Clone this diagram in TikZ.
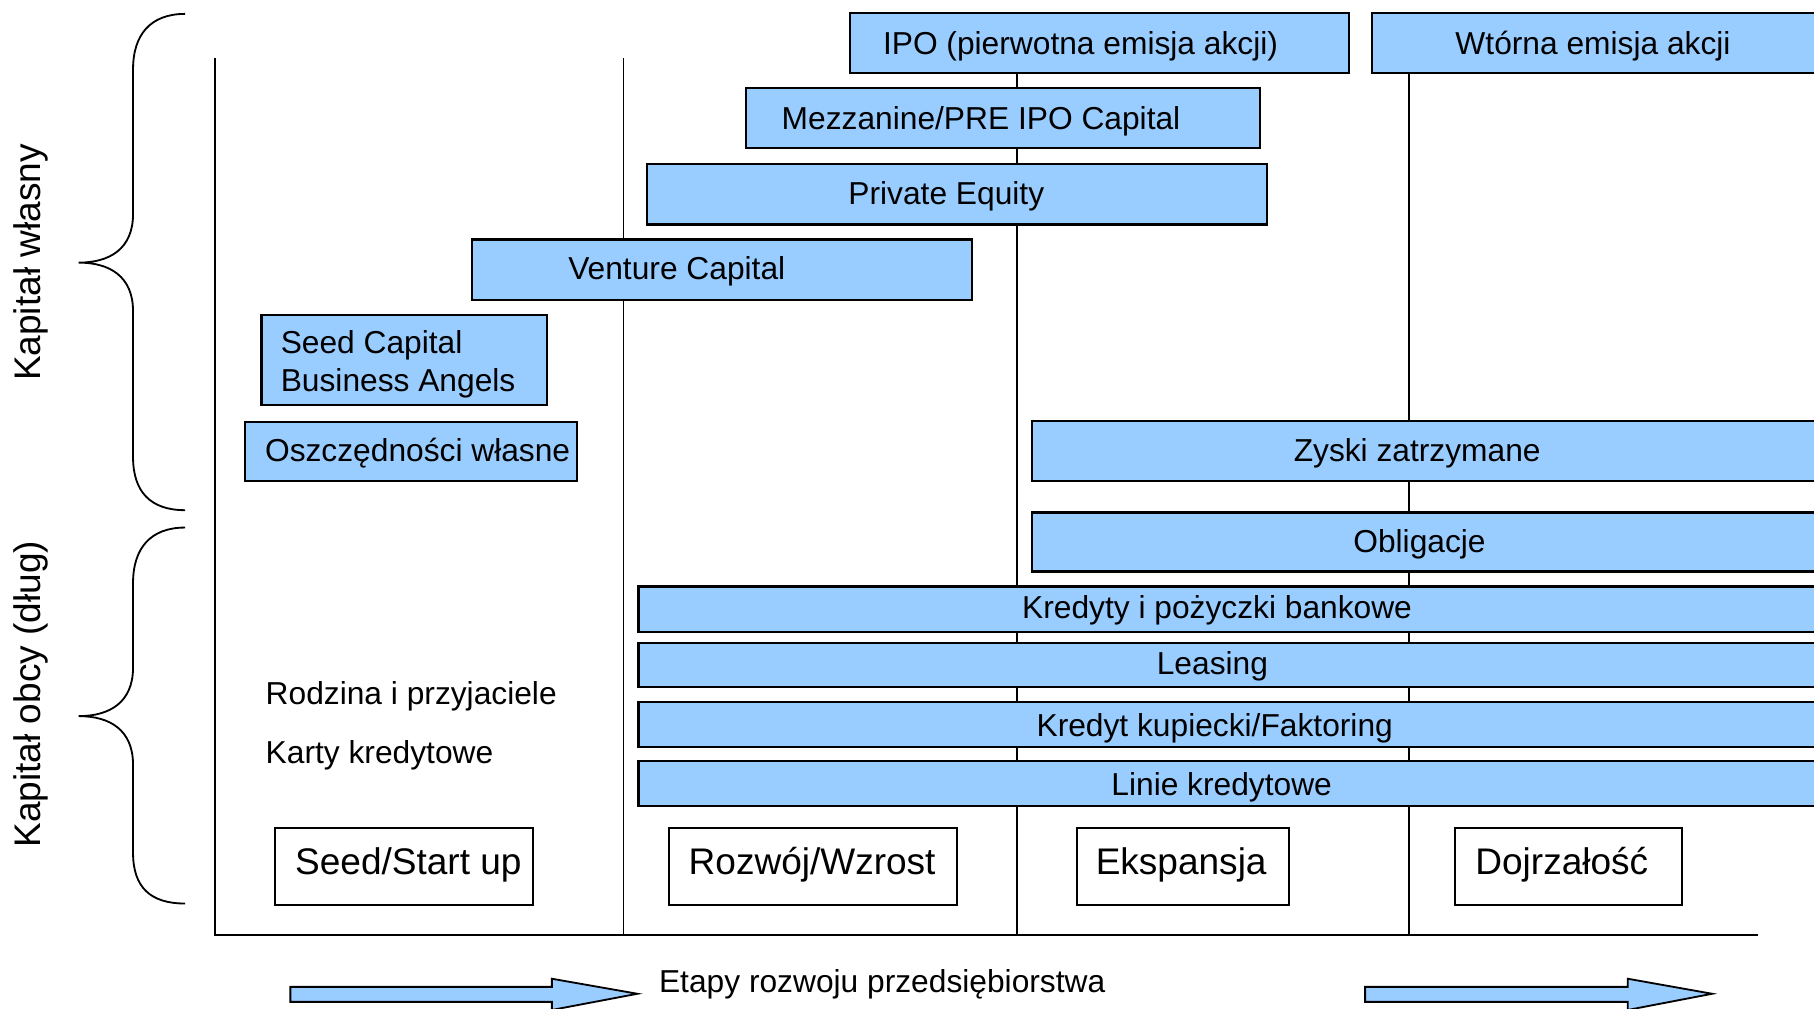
\documentclass[tikz,border=0pt]{standalone}
\usepackage{fontspec}
\setmainfont{Liberation Sans}
\definecolor{fundblue}{RGB}{153,204,255}

\begin{document}
\begin{tikzpicture}
  [x=0.01cm, y=-0.01cm,
   axis/.style={line width=0.45pt},
   fund/.style={draw=black, fill=fundblue, line width=0.55pt},
   stagebox/.style={draw=black, fill=white, line width=0.55pt},
   lbl/.style={font=\fontsize{7.8}{9.4}\selectfont, inner sep=0pt, text height=0.72em, text depth=0pt, yshift=0.85pt},
   stagelbl/.style={font=\fontsize{9.1}{11}\selectfont, inner sep=0pt, text height=0.72em, text depth=0pt, yshift=0.57pt},
   bracelbl/.style={font=\fontsize{9.1}{11}\selectfont, inner sep=0pt, rotate=90}]
  \useasboundingbox (0,0) rectangle (1568,872);
  \clip (0,0) rectangle (1568,872);

  % axes and stage dividers
  \coordinate (top) at (186,50);
  \coordinate (origin) at (186,808);
  \coordinate (xend) at (1520,808);
  \draw[axis] (top) -- (origin) -- (xend);
  \coordinate (d1) at (539,50);
  \coordinate (d1b) at (539,808);
  \coordinate (d2) at (879,63);
  \coordinate (d2b) at (879,808);
  \coordinate (d3) at (1218,63);
  \coordinate (d3b) at (1218,808);
  \draw[axis] (d1) -- (d1b);
  \draw[axis] (d2) -- (d2b);
  \draw[axis] (d3) -- (d3b);

  % braces
  \draw[axis] (160,12) .. controls (130,12) and (115,30) .. (115,60) -- (115,185)
    .. controls (115,215) and (95,227) .. (68,227)
    .. controls (95,227) and (115,239) .. (115,269) -- (115,395)
    .. controls (115,425) and (130,441) .. (160,441);
  \draw[axis] (160,456) .. controls (130,456) and (115,474) .. (115,504) -- (115,577)
    .. controls (115,607) and (95,619) .. (68,619)
    .. controls (95,619) and (115,631) .. (115,661) -- (115,737)
    .. controls (115,767) and (130,781) .. (160,781);
  \node[bracelbl] (wlasny) at (27,227) {Kapitał własny};
  \node[bracelbl] (obcy) at (27,600) {Kapitał obcy (dług)};

  % equity
  \draw[fund] (735,11) rectangle (1166,63);
  \node[lbl] (ipo) at (934,37) {IPO (pierwotna emisja akcji)};
  \draw[fund] (1186,11) rectangle (1580,63);
  \node[lbl] (wtorna) at (1377,37) {Wtórna emisja akcji};
  \draw[fund] (645,76) rectangle (1089,128);
  \node[lbl] (mezz) at (848,102) {Mezzanine/PRE IPO Capital};
  \draw[fund] (559,142) rectangle (1095,194);
  \node[lbl] (pe) at (818,167) {Private Equity};
  \draw[fund] (408,207) rectangle (840,259);
  \node[lbl] (vc) at (585,232) {Venture Capital};
  \draw[fund] (226,272) rectangle (473,350);
  \node[lbl, text height=, anchor=west, align=left] (seed) at (242,315) {Seed Capital\\Business Angels};
  \draw[fund] (212,365) rectangle (499,416);
  \node[lbl] (oszcz) at (361,389) {Oszczędności własne};
  \draw[fund] (892,364) rectangle (1580,416);
  \node[lbl] (zyski) at (1225,389) {Zyski zatrzymane};

  % debt
  \draw[fund] (892,443) rectangle (1580,494);
  \node[lbl] (oblig) at (1227,468) {Obligacje};
  \draw[fund] (552,507) rectangle (1580,546);
  \node[lbl] (kredyty) at (1052,525) {Kredyty i pożyczki bankowe};
  \draw[fund] (552,556) rectangle (1580,594);
  \node[lbl] (leasing) at (1048,573) {Leasing};
  \draw[fund] (552,607) rectangle (1580,646);
  \node[lbl] (kupiecki) at (1050,627) {Kredyt kupiecki/Faktoring};
  \draw[fund] (552,658) rectangle (1580,697);
  \node[lbl] (linie) at (1056,678) {Linie kredytowe};
  \node[lbl, anchor=west] (rodzina) at (229,599) {Rodzina i przyjaciele};
  \node[lbl, anchor=west] (karty) at (229,650) {Karty kredytowe};

  % stages
  \draw[stagebox] (238,716) rectangle (461,782);
  \node[stagelbl] (s1) at (353,745) {Seed/Start up};
  \draw[stagebox] (578,716) rectangle (827,782);
  \node[stagelbl] (s2) at (702,745) {Rozwój/Wzrost};
  \draw[stagebox] (931,716) rectangle (1114,782);
  \node[stagelbl] (s3) at (1021,745) {Ekspansja};
  \draw[stagebox] (1258,716) rectangle (1454,782);
  \node[stagelbl] (s4) at (1350,745) {Dojrzałość};

  % time arrows
  \draw[fund, line width=0.45pt] (251,853) -- (477,853) -- (477,846) -- (551,859)
    -- (477,873) -- (477,866) -- (251,866) -- cycle;
  \draw[fund, line width=0.45pt] (1180,853) -- (1407,853) -- (1407,846) -- (1480,859)
    -- (1407,873) -- (1407,866) -- (1180,866) -- cycle;
  \node[lbl, anchor=west] (etapy) at (569,848) {Etapy rozwoju przedsiębiorstwa};
\end{tikzpicture}
\end{document}
